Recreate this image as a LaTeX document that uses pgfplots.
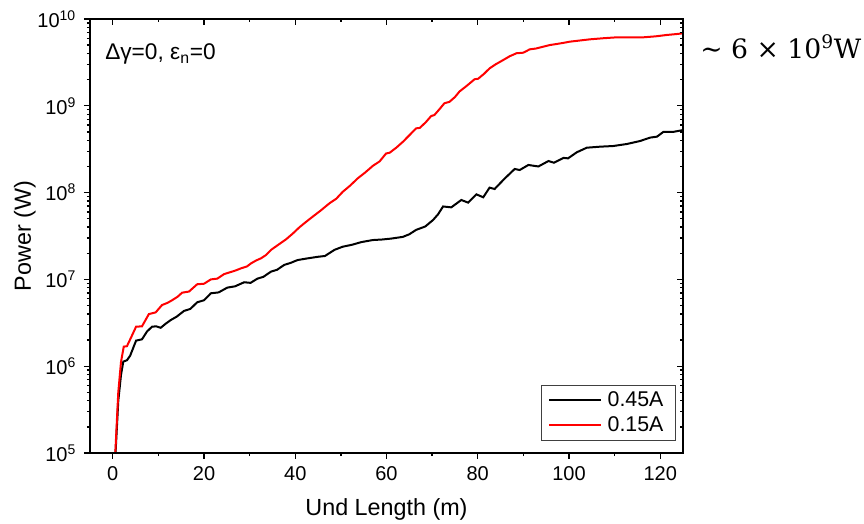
\documentclass[border=0pt]{standalone}
\usepackage{fontspec}
\setmainfont{Liberation Sans}
\newfontfamily\annfont{DejaVu Serif}
\usepackage{pgfplots}
\pgfplotsset{compat=1.18}
\pgfplotsset{
  common/.style={
    at={(0,0)}, anchor=south west,
    scale only axis, width=444.75pt, height=325.5pt,
    xmin=-5, xmax=125, ymin=1e5, ymax=1e10,
    xtick={0,20,40,60,80,100,120}, minor x tick num=1,
    ytick={1e5,1e6,1e7,1e8,1e9,1e10},
    minor ytick={2e5,3e5,4e5,5e5,6e5,7e5,8e5,9e5,
                 2e6,3e6,4e6,5e6,6e6,7e6,8e6,9e6,
                 2e7,3e7,4e7,5e7,6e7,7e7,8e7,9e7,
                 2e8,3e8,4e8,5e8,6e8,7e8,8e8,9e8,
                 2e9,3e9,4e9,5e9,6e9,7e9,8e9,9e9},
    major tick length=4.5pt, minor tick length=2.4pt,
    every tick/.style={black, line width=1pt},
    axis line style={line width=1.1pt},
    /pgf/number format/assume math mode=true,
  }
}
\begin{document}
\begin{tikzpicture}
\path[use as bounding box] (-67.5pt,-53.25pt) rectangle (580.5pt,339.75pt);
\begin{axis}[ymode=log, common,
  xtick pos=bottom, ytick pos=left, tick align=outside,
  tick label style={font=\fontsize{15}{17}\selectfont},
  xticklabel style={yshift=-2.5pt},
  yticklabel style={xshift=-2.5pt},
  yticklabels={10\textsuperscript{5},10\textsuperscript{6},10\textsuperscript{7},10\textsuperscript{8},10\textsuperscript{9},10\textsuperscript{10}},
  xlabel={Und Length (m)}, ylabel={Power (W)},
  every axis x label/.style={at={(axis description cs:0.5,-0.131)}, anchor=center, font=\fontsize{17.5}{19}\selectfont},
  every axis y label/.style={at={(axis description cs:-0.11,0.5)}, rotate=90, anchor=center, font=\fontsize{17.5}{19}\selectfont},
  legend style={at={(0.988,0.028)}, anchor=south east, draw=black!75, line width=0.7pt,
    font=\fontsize{16}{18}\selectfont, row sep=2pt, inner xsep=5pt, inner ysep=3pt,
    nodes={inner xsep=4pt}},
  legend cell align=left,
  legend image code/.code={\draw[#1] (0pt,0pt) -- (39pt,0pt);},
]
\addplot[black, line width=1.5pt] coordinates {
(0.6,1.0e5) (1.2,3.98e5) (1.8,7.94e5) (2.3,1.13e6) (3.1,1.17e6) (3.8,1.32e6)
(5.1,1.97e6) (6.4,2.04e6) (7.5,2.51e6) (8.6,2.85e6) (9.5,2.88e6) (10.5,2.77e6)
(11.6,3.09e6) (12.7,3.40e6) (14.0,3.72e6) (15.6,4.33e6) (17.0,4.57e6) (18.5,5.45e6)
(20,5.75e6) (21.5,6.92e6) (23.2,7.08e6) (25.1,8.04e6) (26.8,8.32e6) (28.8,9.27e6)
(30.2,9.12e6) (31.7,1.02e7) (33.0,1.07e7) (34.7,1.23e7) (36.0,1.29e7) (37.6,1.47e7)
(39,1.55e7) (40.5,1.67e7) (42.5,1.74e7) (44.9,1.82e7) (46.5,1.86e7) (48.6,2.19e7)
(50.4,2.38e7) (52.5,2.51e7) (54.5,2.69e7) (57,2.84e7) (59,2.88e7) (61,2.95e7)
(63.6,3.09e7) (65,3.31e7) (66.5,3.72e7) (68.5,4.07e7) (70.2,4.83e7) (71.3,5.62e7)
(72.4,6.92e7) (74.2,6.76e7) (76.4,8.22e7) (77.9,7.66e7) (79.7,9.55e7) (81.2,8.83e7)
(82.6,1.14e8) (83.7,1.10e8) (85.9,1.45e8) (88.1,1.87e8) (89.2,1.82e8) (91.1,2.08e8)
(93.3,2.00e8) (95.5,2.31e8) (96.7,2.21e8) (98.8,2.51e8) (99.8,2.48e8) (101.7,2.91e8)
(103.9,3.29e8) (106.8,3.38e8) (109.7,3.44e8) (112.7,3.63e8) (115.6,3.93e8) (117.8,4.30e8)
(119.3,4.41e8) (120.7,5.01e8) (122.9,5.01e8) (125,5.25e8)
};
\addlegendentry{0.45A}
\addplot[red, line width=1.5pt] coordinates {
(0.55,1.0e5) (1.2,5.0e5) (1.8,1.12e6) (2.4,1.68e6) (3.1,1.70e6) (4.0,2.14e6)
(5.1,2.85e6) (6.4,2.88e6) (7.9,3.98e6) (9.4,4.17e6) (10.8,5.07e6) (12.0,5.37e6)
(13.0,5.75e6) (14.2,6.31e6) (15.2,7.03e6) (16.7,7.24e6) (18.5,8.79e6) (20,8.91e6)
(21.5,1.0e7) (22.9,1.02e7) (24.4,1.15e7) (25.5,1.20e7) (26.8,1.26e7) (28.1,1.34e7)
(29.4,1.41e7) (30.3,1.53e7) (31.5,1.66e7) (32.5,1.75e7) (33.6,1.91e7) (34.7,2.19e7)
(36.3,2.51e7) (38,2.90e7) (39.5,3.39e7) (40.9,3.98e7) (42.3,4.57e7) (43.8,5.27e7)
(45.5,6.17e7) (47.5,7.53e7) (49,8.51e7) (50.4,1.02e8) (52,1.20e8) (53.7,1.46e8)
(55.3,1.70e8) (57,2.03e8) (58.5,2.29e8) (59.9,2.82e8) (60.7,2.88e8) (62.2,3.31e8)
(63.6,3.85e8) (65,4.57e8) (66.5,5.50e8) (67.3,5.56e8) (68.6,6.46e8) (69.8,7.62e8)
(70.5,7.83e8) (71.6,9.12e8) (72.7,1.07e9) (73.8,1.11e9) (75,1.26e9) (76,1.46e9)
(77.6,1.70e9) (79.3,2.02e9) (80.1,2.05e9) (81.4,2.34e9) (82.6,2.70e9) (84,3.02e9)
(85.6,3.37e9) (87,3.72e9) (88.5,4.03e9) (90,4.09e9) (91.4,4.47e9) (92.8,4.57e9)
(94.3,4.79e9) (95.8,5.01e9) (97.3,5.15e9) (98.8,5.31e9) (100.2,5.48e9) (102,5.62e9)
(104.6,5.83e9) (107.5,6.00e9) (110.5,6.15e9) (113,6.15e9) (116.3,6.15e9) (119,6.31e9)
(121.5,6.55e9) (123.5,6.70e9) (125,6.84e9)
};
\addlegendentry{0.15A}
\end{axis}
\begin{axis}[ymode=log, common,
  xtick pos=top, ytick pos=right, tick align=inside,
  xticklabel=\empty, yticklabels={},
]
\addplot[draw=none] coordinates {(50,1e7)};
\end{axis}
\node[anchor=base west, inner sep=0pt, font=\fontsize{17}{19}\selectfont] at (11.25pt,294.75pt) {Δγ=0, ε\textsubscript{n}=0};
\node[anchor=base west, inner sep=0pt, font=\annfont\fontsize{20}{22}\selectfont] at (457.5pt,295.5pt) {∼ 6 × 10\textsuperscript{9}W};
\end{tikzpicture}
\end{document}
